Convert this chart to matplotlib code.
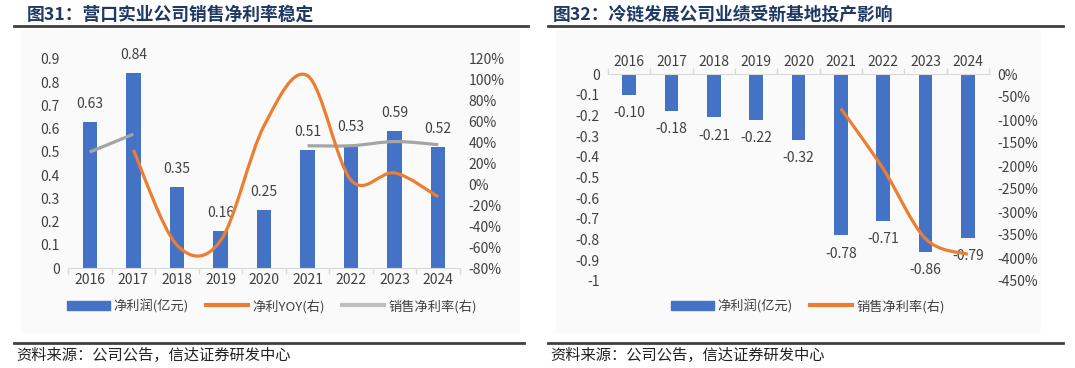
import matplotlib
matplotlib.use("Agg")
import matplotlib.pyplot as plt
from matplotlib.path import Path
from matplotlib.patches import PathPatch, Rectangle, Patch
from matplotlib.lines import Line2D
from matplotlib.ticker import FuncFormatter, FixedLocator

plt.rcParams['font.family'] = ['Noto Sans CJK SC', 'DejaVu Sans']
plt.rcParams['axes.unicode_minus'] = False

years = ['2016', '2017', '2018', '2019', '2020', '2021', '2022', '2023', '2024']

# 图31 营口实业
yk_profit = [0.63, 0.84, 0.35, 0.16, 0.25, 0.51, 0.53, 0.59, 0.52]
yk_yoy = [None, 33, -58, -54, 56, 104, 4, 11, -12]
yk_margin = [31, 48, None, None, None, 37, 37, 41, 38]

# 图32 冷链发展
ll_profit = [-0.10, -0.18, -0.21, -0.22, -0.32, -0.78, -0.71, -0.86, -0.79]
ll_margin = [None, None, None, None, None, -75, -206, -358, -392]

BLUE = '#4472C4'
ORANGE = '#ED7D31'
GRAY = '#A5A5A5'
TXT = '#404040'
NAVY = '#1F3864'

W, H = 1075, 368


def fx(px):
    return px / W


def fy(py):
    return 1 - py / H


def smooth_runs(vals):
    # split into continuous runs and build excel-like smoothed bezier paths
    runs, cur = [], []
    for i, v in enumerate(vals):
        if v is None:
            if cur:
                runs.append(cur)
            cur = []
        else:
            cur.append((i, v))
    if cur:
        runs.append(cur)
    paths = []
    for r in runs:
        n = len(r)
        verts = [r[0]]
        codes = [Path.MOVETO]
        for i in range(n - 1):
            a = r[i - 1] if i > 0 else r[i]
            d = r[i + 2] if i + 2 < n else r[i + 1]
            b, c = r[i], r[i + 1]
            c1 = (b[0] + (c[0] - a[0]) / 6, b[1] + (c[1] - a[1]) / 6)
            c2 = (c[0] - (d[0] - b[0]) / 6, c[1] - (d[1] - b[1]) / 6)
            verts += [c1, c2, c]
            codes += [Path.CURVE4] * 3
        paths.append(Path(verts, codes))
    return paths


def draw_smooth(ax, vals, color):
    for p in smooth_runs(vals):
        ax.add_patch(PathPatch(p, fill=False, edgecolor=color, lw=2.3,
                               capstyle='butt', joinstyle='round', zorder=3))


def style_axes(ax, ax2):
    for a in (ax, ax2):
        for s in a.spines.values():
            s.set_visible(False)
        a.tick_params(axis='y', length=0, labelsize=10, colors=TXT, pad=6)
        a.set_facecolor('none')
    ax.tick_params(axis='x', which='major', length=0, labelsize=10, colors=TXT)
    ax.xaxis.set_minor_locator(FixedLocator([i - 0.5 for i in range(len(years) + 1)]))
    ax.tick_params(axis='x', which='minor', length=4, color='#D9D9D9', width=1)
    ax.set_xlim(-0.5, len(years) - 0.5)


fig = plt.figure(figsize=(W / 100, H / 100), dpi=100)

# panel backgrounds
fig.add_artist(Rectangle((fx(21), fy(332)), fx(519 - 21), (332 - 30) / H,
                         transform=fig.transFigure, color='#FAFAFA', zorder=0))
fig.add_artist(Rectangle((fx(556), fy(332)), fx(1040 - 556), (332 - 30) / H,
                         transform=fig.transFigure, color='#FAFAFA', zorder=0))

# titles and rules
fig.text(fx(27), fy(15), '图31：营口实业公司销售净利率稳定', fontsize=12.8,
         fontweight='bold', color=NAVY, va='center', ha='left')
fig.text(fx(553), fy(15), '图32：冷链发展公司业绩受新基地投产影响', fontsize=12.8,
         fontweight='bold', color=NAVY, va='center', ha='left')
for x0, x1 in ((14, 528), (548, 1063)):
    fig.add_artist(Line2D([fx(x0), fx(x1)], [fy(26), fy(26)], color='#404040', lw=2))
for x0, x1 in ((14, 524), (548, 1063)):
    fig.add_artist(Line2D([fx(x0), fx(x1)], [fy(343), fy(343)], color='#404040', lw=2))
fig.text(fx(16), fy(355), '资料来源：公司公告，信达证券研发中心', fontsize=11,
         color='#222222', va='center', ha='left', style='italic')
fig.text(fx(550), fy(355), '资料来源：公司公告，信达证券研发中心', fontsize=11,
         color='#222222', va='center', ha='left', style='italic')

x = list(range(len(years)))

# ---- left chart ----
ax1 = fig.add_axes([fx(68), fy(268), fx(460 - 68), (268 - 59) / H])
ax1r = ax1.twinx()
ax1.bar(x, yk_profit, width=0.33, color=BLUE, zorder=2)
for i, v in enumerate(yk_profit):
    ax1.annotate(f'{v:.2f}', (i, v), xytext=(0, 13), textcoords='offset points',
                 ha='center', va='center', fontsize=10, color=TXT)
ax1.set_ylim(0, 0.9)
ax1.set_yticks([i / 10 for i in range(10)])
ax1.yaxis.set_major_formatter(FuncFormatter(lambda v, p: f'{v:g}'))
ax1.set_xticks(x)
ax1.set_xticklabels(years)
ax1r.set_ylim(-80, 120)
ax1r.set_yticks(range(-80, 121, 20))
ax1r.yaxis.set_major_formatter(FuncFormatter(lambda v, p: f'{v:.0f}%'))
style_axes(ax1, ax1r)
ax1.spines['bottom'].set_visible(True)
ax1.spines['bottom'].set_color('#D9D9D9')
draw_smooth(ax1r, yk_margin, GRAY)
draw_smooth(ax1r, yk_yoy, ORANGE)

h1 = [Patch(color=BLUE), Line2D([], [], color=ORANGE, lw=3), Line2D([], [], color='#BFBFBF', lw=3)]
fig.legend(h1, ['净利润(亿元)', '净利YOY(右)', '销售净利率(右)'], loc='center',
           bbox_to_anchor=(fx(272), fy(306)), ncol=3, frameon=False, fontsize=9.5,
           handlelength=3.2, handletextpad=0.3, columnspacing=1.3, labelcolor=TXT)

# ---- right chart ----
ax2 = fig.add_axes([fx(608), fy(281), fx(989 - 608), (281 - 74) / H])
ax2r = ax2.twinx()
ax2.bar(x, ll_profit, width=0.33, color=BLUE, zorder=2)
for i, v in enumerate(ll_profit):
    ax2.annotate(f'{v:.2f}', (i, v), xytext=(0, -13), textcoords='offset points',
                 ha='center', va='center', fontsize=10, color=TXT)
ax2.set_ylim(-1, 0)
ax2.set_yticks([-i / 10 for i in range(11)])
ax2.yaxis.set_major_formatter(FuncFormatter(lambda v, p: f'{v:g}'))
ax2.xaxis.tick_top()
ax2.set_xticks(x)
ax2.set_xticklabels(years)
ax2r.set_ylim(-450, 0)
ax2r.set_yticks(range(-450, 1, 50))
ax2r.yaxis.set_major_formatter(FuncFormatter(lambda v, p: f'{v:.0f}%'))
style_axes(ax2, ax2r)
ax2.tick_params(axis='x', which='both', top=True, bottom=False, labeltop=True, labelbottom=False)
ax2.spines['top'].set_visible(True)
ax2.spines['top'].set_color('#D9D9D9')
draw_smooth(ax2r, ll_margin, ORANGE)

h2 = [Patch(color=BLUE), Line2D([], [], color=ORANGE, lw=3)]
fig.legend(h2, ['净利润(亿元)', '销售净利率(右)'], loc='center',
           bbox_to_anchor=(fx(808), fy(306)), ncol=2, frameon=False, fontsize=9.5,
           handlelength=3.2, handletextpad=0.3, columnspacing=1.3, labelcolor=TXT)

fig.savefig('out.png', dpi=100)
